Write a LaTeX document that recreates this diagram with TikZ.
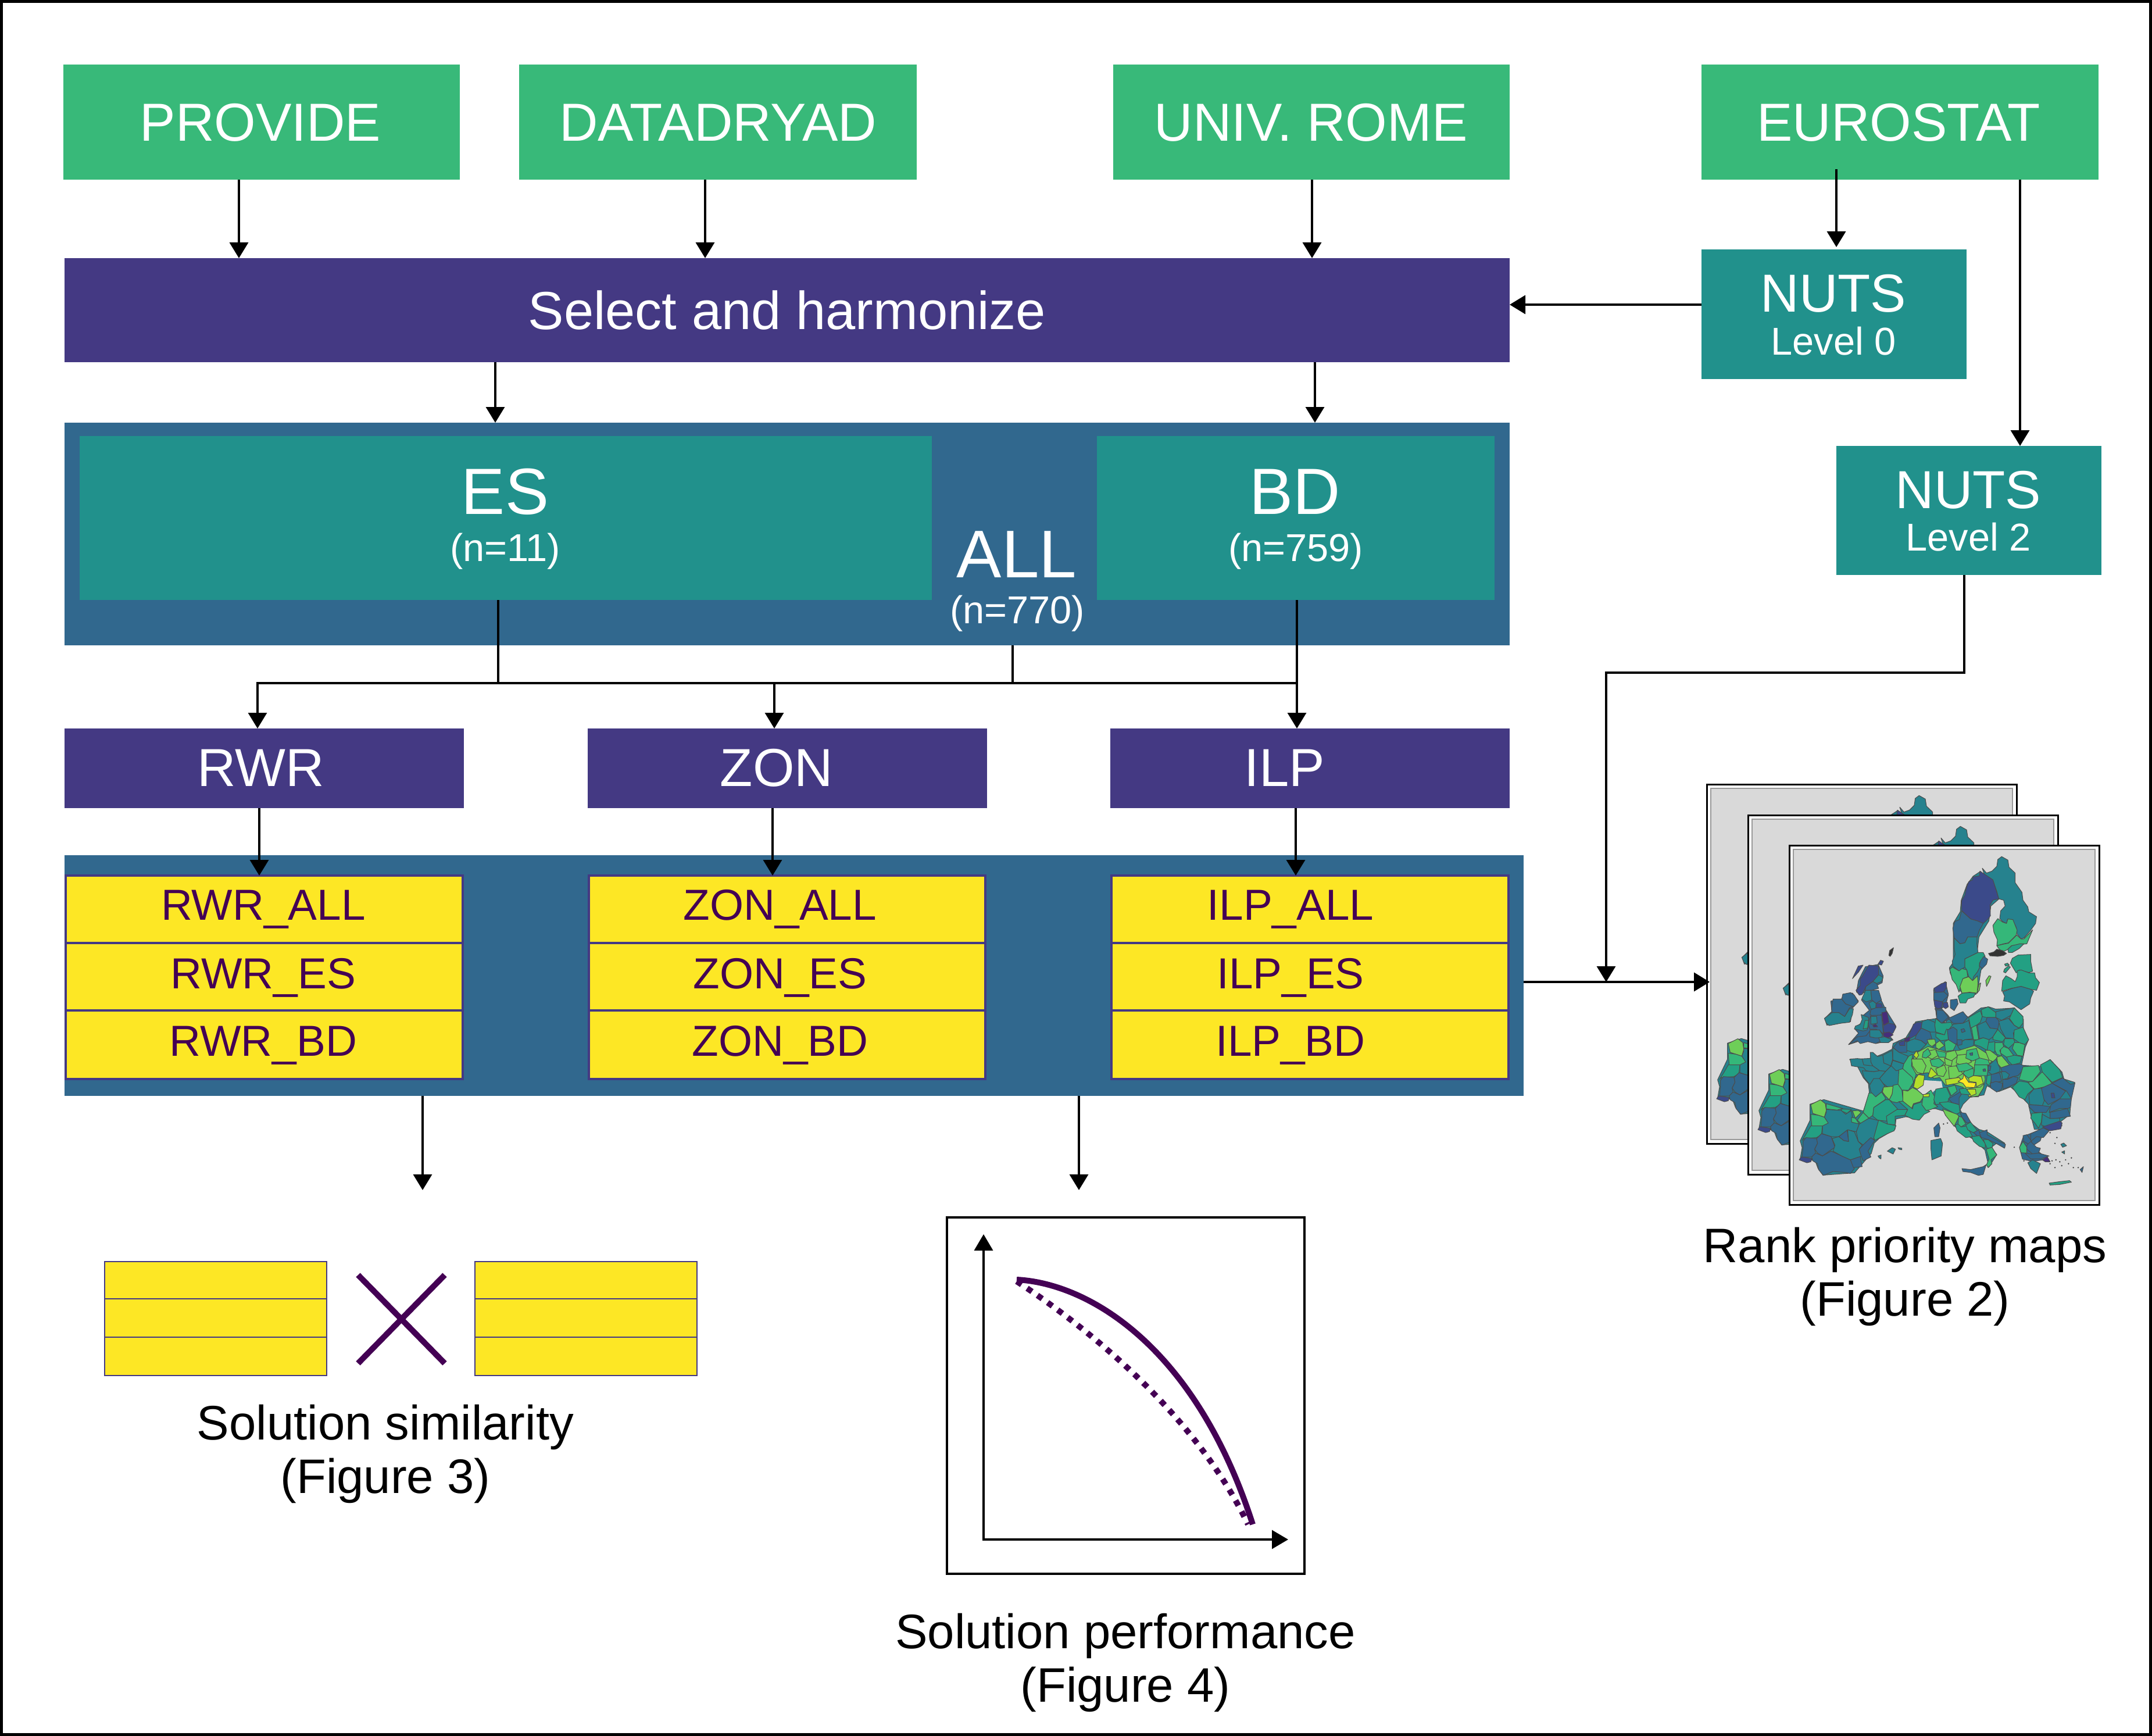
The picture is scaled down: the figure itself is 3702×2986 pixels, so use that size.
\documentclass[tikz,border=0pt]{standalone}
\usepackage{fontspec}
\setmainfont{Liberation Sans}
\usetikzlibrary{arrows.meta}
\definecolor{vgreen}{HTML}{38B979}
\definecolor{vpurple}{HTML}{443983}
\definecolor{vteal}{HTML}{21918C}
\definecolor{vblue}{HTML}{31688E}
\definecolor{vyellow}{HTML}{FDE725}
\definecolor{vdark}{HTML}{440154}
\definecolor{vA}{HTML}{472D7B}
\definecolor{vB}{HTML}{3B4A8A}
\definecolor{vC}{HTML}{31688E}
\definecolor{vD}{HTML}{26828E}
\definecolor{vE}{HTML}{23A083}
\definecolor{vF}{HTML}{35B779}
\definecolor{vG}{HTML}{6ECE58}
\definecolor{vH}{HTML}{B5DE2B}
\definecolor{vI}{HTML}{FDE725}
\tikzset{
 blk/.style={draw=none,outer sep=0pt,inner sep=0pt},
 yrow/.style={draw=vpurple,line width=0.8mm,fill=vyellow,outer sep=0pt,inner sep=0pt},
 yrowthin/.style={draw=vpurple,line width=0.4mm,fill=vyellow,outer sep=0pt,inner sep=0pt},
 conn/.style={line width=0.7mm,-{Triangle[length=5.4mm,width=6.4mm]}},
 plainconn/.style={line width=0.7mm},
 lab/.style={anchor=base,inner sep=0pt,outer sep=0pt},
 wh/.style={text=white},
 pu/.style={text=vdark},
 f52/.style={font=\fontsize{52.4}{60}\selectfont},
 f64/.style={font=\fontsize{64}{72}\selectfont},
 f66/.style={font=\fontsize{66}{72}\selectfont},
 f37/.style={font=\fontsize{38}{44}\selectfont},
 f42/.style={font=\fontsize{42.5}{50}\selectfont},
 f47/.style={font=\fontsize{47.4}{55}\selectfont},
 mp/.style={draw=black!70,line width=0.2mm,line join=round},
 sheet/.style={draw=black,line width=0.6mm,fill=white},
 sheetin/.style={draw=black!40,line width=0.4mm,fill=black!15},
}
\newcommand{\bx}[6]{\node[#2,minimum width={(#5-#3)*0.2mm},minimum height={(#6-#4)*0.2mm}] (#1) at ({(#3+#5)/2},{(#4+#6)/2}) {};}
\newcommand{\tx}[5]{\node[lab,#2] (#1) at (#3,#4) {#5};}
\newcommand{\rg}[2]{\path[mp,fill=#1] plot coordinates {#2} -- cycle;}
\newcommand{\EUmap}{%
\begin{scope}[shift={(3078,1454)},x=0.068mm,y=-0.0788mm]
\rg{vD}{(305,935)(410,930)(410,905)(430,925)(475,910)(520,890)(525,865)(590,840)(640,770)(750,755)(790,775)(800,760)(880,735)(905,750)(970,710)(1010,705)(1045,715)(1140,710)(1185,760)(1185,800)(1210,850)(1195,880)(1175,960)(1270,965)(1320,935)(1380,990)(1390,1020)(1445,1035)(1425,1110)(1420,1175)(1375,1205)(1380,1225)(1300,1240)(1265,1240)(1240,1240)(1220,1170)(1210,1130)(1160,1085)(1120,1055)(1060,1075)(1000,1050)(985,1090)(915,1100)(880,1130)(865,1155)(890,1195)(960,1240)(1000,1250)(1090,1300)(1090,1320)(1050,1300)(1020,1320)(1050,1350)(1010,1405)(990,1330)(925,1280)(850,1240)(780,1160)(740,1150)(670,1150)(660,1195)(590,1185)(540,1195)(535,1240)(455,1280)(430,1300)(415,1345)(360,1400)(330,1430)(170,1440)(145,1410)(130,1375)(55,1370)(65,1320)(55,1290)(105,1200)(105,1130)(175,1110)(375,1160)(405,1080)(400,1040)(375,1015)(345,965)}
\rg{vC}{(1165,1320)(1185,1270)(1290,1235)(1270,1290)(1235,1310)(1265,1340)(1310,1370)(1230,1380)(1180,1370)}
\rg{vD}{(965,115)(1040,170)(1060,235)(1020,265)(1010,330)(960,400)(950,470)(985,490)(1000,510)(970,545)(960,600)(945,650)(890,660)(860,630)(815,560)(810,535)(830,510)(830,420)(830,340)(865,290)(870,240)(900,170)(930,135)}
\rg{vC}{(365,650)(400,630)(470,600)(475,570)(450,520)(385,530)(350,590)(340,640)(355,650)}
\rg{vC}{(365,675)(405,635)(445,640)(490,720)(540,790)(510,835)(525,850)(440,865)(370,850)(300,870)(350,820)(330,800)(385,760)(370,745)(405,720)}
\rg{vC}{(180,755)(215,725)(210,680)(265,670)(275,650)(320,645)(350,680)(320,710)(310,770)(190,785)}
\rg{vC}{(730,630)(790,595)(805,650)(790,705)(770,710)(800,760)(745,750)(735,680)}
\fill[black!15] (640,1060)--(680,1025)--(770,1030)--(780,1075)--(735,1070)--(710,1095)--(680,1090)--cycle;
\end{scope}
\begin{scope}[shift={(3330,1460)},x=0.0666667mm,y=-0.0666667mm]
\rg{vD}{(240,100)(262,125)(290,115)(315,90)(320,55)(340,40)(372,58)(378,95)(410,125)(410,175)(445,225)(450,265)(475,300)(480,325)(520,350)(515,385)(490,420)(455,460)(440,465)(420,440)(415,405)(395,365)(370,365)(365,385)(345,375)(330,360)(335,320)(358,295)(350,265)(325,258)(315,220)(295,165)(250,130)}
\rg{vB}{(228,115)(250,130)(295,160)(315,225)(325,258)(295,265)(280,290)(282,345)(272,360)(245,385)(215,372)(180,362)(133,318)(133,268)(150,240)(158,200)(170,170)(190,160)(192,145)(225,140)}
\rg{vC}{(133,320)(180,362)(215,372)(245,385)(225,420)(213,455)(165,455)(150,485)(125,490)(95,460)(88,410)(98,375)(122,365)}
\rg{vD}{(95,460)(125,490)(150,485)(165,455)(213,455)(212,490)(218,535)(150,568)(150,610)(120,630)(88,605)(85,580)(100,545)(95,515)}
\rg{vE}{(218,535)(245,535)(255,555)(225,590)(225,615)(215,635)(195,660)(190,680)(170,660)(160,625)(150,610)(150,568)}
\rg{vC}{(248,555)(268,570)(262,595)(240,618)(225,605)(230,580)}
\rg{vF}{(72,622)(85,610)(120,630)(135,618)(160,625)(165,660)(140,670)(128,710)(120,740)(105,700)(85,675)}
\rg{vG}{(140,670)(170,660)(190,680)(215,655)(218,695)(213,745)(175,740)(135,745)(125,710)}
\rg{vG}{(213,745)(222,700)(232,692)(225,730)}
\rg{vG}{(258,680)(275,655)(285,658)(275,685)(262,710)}
\rg{vE}{(115,760)(135,745)(175,742)(205,745)(195,765)(165,775)(155,795)(125,795)}
\rg{vF}{(295,395)(320,360)(345,378)(365,385)(372,362)(398,365)(420,420)(415,445)(375,485)(350,490)(315,500)(318,470)(300,430)}
\rg{vF}{(315,500)(350,492)(375,487)(418,445)(440,465)(455,465)(500,418)(470,490)(430,495)(390,500)(370,520)(345,532)(325,515)}
\rg{vE}{(375,535)(372,518)(392,500)(435,490)(455,490)(430,515)(395,535)}
\rg{black!80}{(272,540)(300,532)(315,518)(345,525)(365,540)(350,550)(320,555)(280,552)}
\rg{vE}{(385,590)(395,565)(425,548)(490,545)(490,580)(500,632)(480,638)(430,625)(415,640)}
\rg{vE}{(350,635)(355,620)(375,605)(385,610)(360,640)}
\rg{vE}{(355,595)(370,590)(380,600)(360,605)}
\rg{vE}{(340,735)(345,680)(362,655)(390,670)(410,685)(420,660)(420,630)(440,625)(480,640)(510,640)(515,665)(535,690)(520,730)(490,725)(440,710)(390,720)}
\rg{vD}{(345,738)(395,720)(440,710)(490,725)(505,735)(490,770)(485,800)(440,830)(410,810)(380,790)(350,785)(355,760)}
\end{scope}
\begin{scope}[shift={(3120,1620)},x=0.0666667mm,y=-0.0666667mm]
\rg{vB}{(620,240)(660,215)(685,208)(685,235)(670,260)(630,265)}
\rg{vC}{(620,262)(672,258)(695,278)(672,300)(665,310)(620,300)}
\rg{vB}{(620,300)(665,310)(660,340)(640,345)(625,335)}
\rg{vB}{(668,315)(690,312)(695,335)(680,345)(668,335)}
\rg{vC}{(705,300)(740,295)(745,320)(725,355)(705,340)}
\rg{vC}{(625,345)(660,345)(690,375)(705,395)(670,415)(640,390)(635,360)}
\rg{vD}{(55,395)(95,365)(130,365)(160,385)(185,345)(205,345)(200,375)(185,415)(140,420)(80,432)(65,420)}
\rg{vC}{(92,345)(100,295)(145,295)(165,320)(205,335)(185,340)(160,385)(130,365)(95,365)}
\rg{vC}{(150,270)(190,262)(210,275)(230,310)(205,335)(165,320)(145,295)}
\rg{vB}{(250,180)(285,120)(335,125)(335,170)(305,205)(270,230)(250,272)(235,275)(218,250)(240,225)(240,190)}
\rg{vB}{(200,190)(230,125)(255,120)(232,155)}
\rg{vB}{(332,115)(345,95)(360,100)(350,120)}
\rg{black!80}{(388,70)(392,45)(412,30)(405,60)(395,75)}
\rg{vD}{(305,205)(335,170)(358,183)(350,205)(325,215)}
\rg{vC}{(270,230)(305,205)(325,215)(335,240)(300,250)(265,250)}
\rg{vD}{(268,250)(295,250)(300,300)(270,310)(248,295)}
\rg{vC}{(295,250)(335,250)(350,300)(322,318)(300,300)}
\rg{vD}{(285,315)(305,305)(322,318)(320,345)(295,345)}
\rg{vB}{(322,318)(350,320)(355,340)(322,340)}
\rg{vC}{(295,350)(322,340)(372,338)(372,360)(340,380)(300,380)(290,375)}
\rg{vC}{(295,380)(350,378)(355,430)(360,475)(340,460)(320,450)(290,450)(280,420)}
\rg{vD}{(295,385)(325,385)(328,420)(295,425)}
\rg{vA}{(352,365)(378,360)(388,415)(360,430)(355,400)}
\rg{vB}{(360,432)(385,420)(415,425)(425,440)(410,470)(390,485)(360,465)}
\rg{vA}{(360,470)(390,465)(410,480)(385,495)(360,490)}
\rg{vA}{(305,430)(320,425)(330,438)(310,440)}
\rg{vD}{(245,375)(270,385)(283,390)(285,430)(275,455)(255,460)(210,450)(215,435)(240,425)(250,400)}
\rg{vE}{(265,405)(283,405)(278,445)(255,450)}
\rg{vC}{(180,530)(225,490)(270,485)(290,460)(340,455)(365,490)(405,505)(385,520)(340,515)(320,525)(280,515)(240,525)(225,510)(205,520)}
\rg{vD}{(290,455)(340,455)(355,480)(350,495)(315,495)(290,490)}
\rg{vD}{(335,495)(365,490)(405,505)(385,520)(345,520)}
\rg{vC}{(410,545)(440,510)(475,510)(490,520)(480,570)(440,570)}
\rg{vB}{(440,520)(470,508)(470,535)(445,535)}
\rg{vA}{(470,500)(495,490)(490,515)(470,515)}
\rg{vD}{(292,570)(305,570)(330,592)(357,585)(362,625)(398,640)(372,668)(340,665)(305,640)(295,620)}
\rg{vD}{(188,605)(225,602)(250,605)(258,635)(305,640)(340,665)(310,670)(270,665)(258,650)(195,640)}
\rg{vD}{(357,585)(405,560)(408,605)(398,640)(362,625)}
\rg{vD}{(408,545)(440,570)(488,590)(470,630)(410,610)(408,605)}
\rg{vD}{(400,640)(408,612)(465,630)(458,660)(425,665)}
\rg{vD}{(250,665)(310,670)(340,665)(372,668)(340,705)(350,735)(295,742)(260,700)}
\rg{vD}{(372,668)(400,640)(425,665)(458,660)(440,690)(440,745)(380,748)(345,720)(340,705)}
\rg{vF}{(465,630)(490,590)(510,580)(505,640)(530,680)(510,745)(440,745)(440,690)(458,660)}
\rg{vG}{(510,600)(550,600)(575,640)(570,680)(530,685)(505,640)}
\end{scope}
\begin{scope}[shift={(3090,1820)},x=0.0666667mm,y=-0.0666667mm]
\rg{vD}{(378,140)(400,105)(430,105)(458,145)(450,150)(440,175)(410,200)(385,175)}
\rg{vG}{(450,150)(500,145)(495,185)(480,215)(460,195)(445,175)}
\rg{vF}{(525,135)(530,60)(550,55)(600,100)(605,125)(580,165)(545,165)}
\rg{vF}{(375,180)(390,180)(410,200)(440,175)(460,205)(458,215)(400,255)(395,295)(375,310)(345,280)}
\rg{vE}{(460,215)(480,215)(525,265)(475,300)(465,325)(420,320)(395,300)(400,255)}
\rg{vF}{(500,140)(525,135)(545,165)(550,205)(565,220)(530,225)(520,230)(495,225)(480,215)(495,185)}
\rg{vG}{(550,165)(575,170)(600,152)(625,165)(660,195)(640,225)(605,235)(595,260)(565,240)(550,222)}
\rg{vE}{(530,225)(550,222)(600,262)(605,240)(650,225)(670,265)(690,275)(660,290)(635,320)(600,315)(560,295)(575,265)}
\rg{vE}{(465,300)(520,265)(575,265)(560,295)(510,300)(510,345)(470,340)}
\rg{vG}{(75,240)(125,215)(150,235)(155,270)(145,305)(115,295)(85,285)}
\rg{vF}{(155,235)(240,260)(210,268)(155,262)}
\rg{vE}{(235,262)(285,265)(262,285)(232,272)}
\rg{vD}{(155,265)(232,270)(255,290)(285,270)(290,305)(285,325)(325,340)(310,380)(265,370)(220,405)(180,405)(135,390)(135,340)(155,320)(145,305)(155,280)}
\rg{vG}{(290,272)(320,270)(335,280)(305,310)}
\rg{vF}{(345,280)(375,310)(340,345)(315,320)}
\rg{vF}{(285,305)(305,310)(325,340)(285,330)}
\rg{vF}{(75,290)(115,295)(145,305)(165,335)(135,350)(80,350)}
\rg{vE}{(75,350)(135,350)(130,395)(105,410)(40,415)(30,425)(55,385)}
\rg{vC}{(35,430)(50,410)(105,415)(110,440)(95,470)(100,490)(80,510)(30,510)(35,460)}
\rg{vC}{(130,390)(180,405)(200,460)(170,480)(135,505)(110,490)(95,470)(110,440)(105,415)}
\rg{vC}{(80,510)(100,490)(135,505)(180,480)(235,505)(280,525)(300,570)(280,595)(250,590)(190,585)(140,605)(115,575)(110,545)(85,530)}
\rg{vB}{(15,525)(25,510)(80,518)(75,535)(55,540)}
\rg{vD}{(185,415)(220,405)(245,425)(270,430)(265,370)(300,380)(320,430)(340,450)(325,470)(340,505)(280,525)(235,505)(190,480)(200,450)}
\rg{vC}{(220,405)(262,372)(270,430)(245,425)}
\rg{vD}{(325,340)(375,310)(425,322)(410,380)(400,420)(345,448)(320,430)(310,380)}
\rg{vE}{(425,320)(470,340)(515,348)(505,375)(470,390)(405,425)(400,410)}
\rg{vC}{(345,448)(385,410)(405,425)(370,480)(385,510)(345,530)(335,505)(325,470)}
\rg{vC}{(280,525)(330,508)(340,560)(295,565)}
\rg{vD}{(470,480)(495,462)(512,470)(500,495)}
\rg{vD}{(525,462)(545,465)(545,473)(530,470)}
\rg{vD}{(422,505)(438,500)(437,520)(428,515)}
\end{scope}
\begin{scope}[shift={(3280,1700)},x=0.0666667mm,y=-0.0666667mm]
\rg{vB}{(35,185)(55,175)(80,175)(75,205)(50,240)(15,260)(0,270)}
\rg{vD}{(80,170)(110,160)(145,175)(150,225)(120,225)(75,205)}
\rg{vC}{(50,240)(75,205)(120,225)(130,260)(100,290)(75,270)(40,265)}
\rg{vD}{(0,275)(40,260)(75,270)(100,290)(70,320)(30,330)(0,320)}
\rg{vA}{(0,255)(15,250)(15,270)(0,278)}
\rg{vE}{(100,290)(120,260)(150,290)(115,320)(70,320)}
\rg{vC}{(155,110)(190,115)(215,150)(180,180)(155,155)}
\rg{vC}{(215,155)(290,120)(315,150)(290,180)(240,180)}
\rg{vE}{(150,155)(180,180)(230,175)(240,205)(205,215)(195,240)(150,225)(145,190)}
\rg{vD}{(240,185)(290,180)(320,165)(330,215)(340,260)(300,265)(260,290)(225,270)(220,210)}
\rg{vF}{(333,195)(360,190)(372,265)(345,265)}
\rg{vE}{(320,150)(380,115)(390,145)(380,175)(360,190)(330,205)}
\rg{vE}{(385,110)(420,95)(460,125)(460,150)(410,150)(390,145)}
\rg{vD}{(460,120)(555,100)(555,130)(490,165)(460,150)}
\rg{vC}{(408,170)(415,150)(460,150)(478,170)(470,210)(430,205)}
\rg{vD}{(365,190)(408,170)(430,205)(470,210)(445,250)(425,265)(395,255)(375,260)}
\rg{vD}{(475,170)(525,155)(555,190)(580,205)(550,230)(555,260)(510,255)(485,210)}
\rg{vE}{(555,100)(600,145)(600,180)(580,205)(555,190)(530,155)}
\rg{vE}{(445,250)(470,212)(510,255)(495,275)(445,265)}
\rg{vE}{(555,215)(600,200)(630,265)(610,290)(580,280)(552,260)}
\rg{vE}{(505,260)(552,260)(558,280)(525,310)(500,290)}
\rg{vF}{(555,280)(580,280)(610,290)(600,350)(570,345)(545,310)}
\rg{vF}{(485,310)(500,300)(525,310)(555,350)(515,355)(485,335)}
\rg{vE}{(515,355)(555,345)(595,352)(585,385)(545,395)(525,375)}
\rg{vF}{(455,280)(495,280)(500,300)(480,320)(490,350)(465,340)(455,320)}
\rg{vE}{(420,280)(455,275)(455,330)(430,325)(415,320)}
\rg{vE}{(350,270)(395,255)(425,265)(415,320)(380,300)(348,290)}
\rg{vD}{(260,290)(300,265)(345,265)(345,295)(290,325)(270,310)}
\rg{vC}{(280,212)(295,208)(302,222)(285,228)}
\rg{vC}{(258,265)(285,265)(285,290)(262,295)}
\rg{vE}{(150,230)(195,240)(205,210)(220,215)(215,265)(175,270)(150,250)}
\rg{vC}{(210,215)(240,200)(260,215)(260,285)(235,290)(215,265)}
\rg{vG}{(55,330)(110,300)(200,325)(270,320)(350,295)(420,340)(440,375)(420,400)(415,430)(400,440)(405,470)(395,510)(370,560)(330,560)(290,510)(225,490)(200,500)(170,460)(140,465)(110,435)(70,440)(40,400)(35,360)}
\rg{vG}{(105,265)(145,262)(150,285)(130,300)(115,290)}
\rg{vG}{(150,285)(170,270)(195,295)(165,315)(150,305)}
\rg{vF}{(195,275)(215,265)(255,290)(240,320)(200,325)}
\rg{vG}{(100,325)(150,315)(165,345)(130,365)(100,350)}
\rg{vF}{(150,320)(200,330)(205,355)(165,355)}
\rg{vG}{(205,330)(250,320)(262,350)(230,375)(200,360)}
\rg{vG}{(262,345)(305,340)(335,380)(290,400)(255,385)}
\rg{vG}{(195,360)(235,375)(230,400)(200,395)}
\rg{vF}{(120,370)(165,360)(195,385)(170,410)(130,400)}
\rg{vG}{(150,415)(195,395)(205,425)(190,455)(160,450)}
\rg{vG}{(215,405)(255,400)(290,440)(250,465)(220,465)}
\rg{vF}{(290,440)(310,410)(345,415)(345,450)(320,465)}
\rg{vF}{(85,330)(110,310)(125,340)(100,360)(80,355)}
\rg{vG}{(25,365)(80,365)(100,400)(85,440)(55,435)(30,400)}
\rg{vH}{(35,345)(50,322)(62,345)(50,362)}
\rg{vH}{(60,445)(92,450)(85,500)(55,520)(35,510)(45,465)}
\rg{vH}{(125,410)(158,445)(125,462)(110,455)}
\rg{vG}{(405,320)(430,320)(470,350)(450,380)(425,370)}
\rg{vG}{(465,355)(490,348)(530,395)(495,418)(470,390)}
\rg{vH}{(200,470)(270,460)(290,480)(260,490)(205,500)}
\rg{vH}{(320,462)(345,450)(385,455)(395,490)(360,508)(358,485)(322,480)}
\rg{vI}{(265,480)(290,465)(295,442)(305,462)(320,485)(358,488)(350,512)(305,510)(290,490)}
\rg{vG}{(380,510)(400,490)(395,515)(370,555)(335,560)(315,520)(350,512)}
\rg{vH}{(312,520)(355,520)(358,545)(320,560)}
\rg{vF}{(350,395)(415,390)(420,410)(415,450)(385,450)(345,450)(350,420)}
\rg{vF}{(360,355)(420,370)(430,395)(350,395)}
\rg{vF}{(310,320)(360,310)(375,360)(340,375)(305,360)}
\rg{vC}{(325,335)(340,332)(340,345)(328,345)}
\rg{vC}{(393,418)(405,415)(408,428)(395,428)}
\rg{vF}{(255,395)(310,385)(345,410)(310,425)(270,430)}
\rg{vD}{(420,400)(460,365)(480,410)(480,430)(440,445)(420,430)}
\rg{vC}{(420,400)(435,400)(430,425)(420,425)}
\rg{vC}{(485,410)(530,395)(585,390)(615,405)(575,450)(550,455)(520,465)(500,450)}
\rg{vD}{(480,430)(510,430)(530,445)(520,465)(495,470)(490,435)}
\rg{vE}{(415,450)(440,445)(430,505)(410,490)}
\rg{vC}{(435,445)(480,435)(490,480)(435,490)}
\rg{vC}{(430,490)(460,480)(495,490)(490,520)(465,535)(435,515)}
\rg{vC}{(495,470)(520,470)(550,455)(575,460)(565,490)(525,510)(497,520)}
\rg{vF}{(600,405)(680,398)(690,430)(650,480)(625,480)(580,470)}
\rg{vF}{(625,485)(650,480)(700,430)(750,490)(725,505)(660,520)}
\rg{vE}{(690,395)(740,368)(790,420)(805,460)(750,485)(700,432)}
\rg{vC}{(750,490)(805,462)(845,495)(868,490)(850,570)(825,530)}
\rg{vC}{(695,515)(750,490)(820,530)(790,570)(730,600)(705,570)}
\rg{vB}{(745,540)(760,540)(765,565)(748,565)}
\rg{vE}{(545,510)(580,478)(625,485)(655,520)(625,545)(610,575)(580,560)}
\rg{vD}{(630,550)(655,520)(695,515)(710,580)(700,605)(635,600)}
\rg{vC}{(635,600)(700,605)(740,610)(720,640)(660,640)(630,610)}
\rg{vC}{(745,600)(790,570)(850,570)(845,615)(830,620)(790,620)(735,640)}
\rg{vC}{(740,640)(830,620)(845,660)(780,670)(740,672)}
\rg{vE}{(645,645)(700,640)(695,690)(680,722)(665,700)(640,670)}
\rg{vD}{(700,650)(740,672)(790,670)(790,690)(720,715)(695,705)}
\rg{vB}{(700,715)(790,685)(802,695)(795,725)(740,735)}
\rg{vC}{(640,750)(705,720)(735,735)(705,770)(670,765)(640,790)}
\rg{vC}{(600,760)(620,755)(645,790)(630,805)(605,790)}
\rg{vC}{(620,810)(640,790)(670,820)(690,825)(680,850)(650,855)(620,830)}
\rg{vF}{(582,820)(600,790)(620,820)(620,850)(590,848)}
\rg{vC}{(610,850)(640,855)(680,850)(735,865)(690,880)(640,880)}
\rg{vA}{(700,885)(725,868)(740,895)(715,895)}
\rg{vD}{(625,900)(650,885)(690,905)(670,955)(640,930)}
\rg{vE}{(735,1005)(785,998)(840,992)(850,1000)(790,1012)(740,1015)}
\rg{vD}{(795,805)(810,798)(825,812)(805,820)}
\rg{vD}{(800,845)(815,838)(815,855)}
\rg{vC}{(895,935)(912,920)(905,950)}
\rg{vC}{(140,720)(165,695)(172,720)(165,765)(145,765)}
\rg{vD}{(125,785)(175,775)(185,800)(178,865)(130,885)(125,830)}
\rg{vC}{(285,930)(330,935)(395,920)(410,910)(395,960)(370,965)(330,950)(290,945)}
\rg{vF}{(78,600)(85,555)(125,525)(145,560)(140,595)(160,610)(125,625)(100,630)}
\rg{vH}{(85,548)(118,543)(115,560)(85,560)}
\rg{vE}{(150,520)(205,510)(225,555)(210,590)(150,600)(140,575)}
\rg{vF}{(210,510)(250,500)(260,530)(230,555)}
\rg{vC}{(215,570)(250,550)(300,520)(270,565)(270,600)(235,590)}
\rg{vE}{(168,590)(215,585)(270,600)(275,640)(255,650)(190,615)}
\rg{vE}{(270,520)(305,515)(330,550)(280,545)}
\rg{vG}{(185,622)(260,650)(270,660)(245,712)(200,655)}
\rg{vC}{(275,640)(305,645)(330,690)(310,695)(285,665)}
\rg{vF}{(268,660)(285,665)(305,700)(280,715)(265,700)}
\rg{vE}{(250,705)(265,700)(280,715)(310,710)(340,765)(305,770)(260,735)}
\rg{vE}{(305,705)(330,690)(365,735)(345,745)(315,730)}
\rg{vC}{(345,745)(370,730)(390,765)(375,770)}
\rg{vC}{(375,745)(415,730)(415,755)(470,785)(510,805)(505,825)(470,805)(420,780)(385,770)}
\rg{vE}{(335,765)(375,760)(405,800)(405,825)(375,815)(345,790)}
\rg{vE}{(395,780)(420,780)(445,800)(440,825)(415,825)}
\rg{vF}{(410,830)(440,820)(465,860)(435,885)(440,905)(420,925)(412,910)(425,880)}
\foreach \p in {(765,800),(750,890),(770,885),(790,895),(820,885),(850,875),(835,905),(800,915),(765,925),(860,925),(885,925),(740,905),(775,770),(740,745),(555,820),(605,890),(210,695),(190,700)}{\fill[black!75] \p circle[radius=4];}
\end{scope}
}
\newcommand{\sheetat}[1]{%
\begin{scope}[shift={(#1)}]
\path[sheet] (3078,1454) rectangle (3611,2072);
\path[sheetin] (3085,1461) rectangle (3604,2065);
\EUmap
\end{scope}}
\begin{document}
\begin{tikzpicture}[x=0.2mm,y=-0.2mm]
\useasboundingbox (0,0) rectangle (3702,2986);
\draw[line width=1mm,draw=black] (2.5,2.5) rectangle (3699.5,2983.5);
% source boxes
\bx{prov}{blk,fill=vgreen}{109}{111}{791}{309}
\bx{dryad}{blk,fill=vgreen}{893}{111}{1577}{309}
\bx{rome}{blk,fill=vgreen}{1915}{111}{2597}{309}
\bx{euro}{blk,fill=vgreen}{2927}{111}{3610}{309}
\bx{sel}{blk,fill=vpurple}{111}{444}{2597}{623}
\bx{nutsz}{blk,fill=vteal}{2927}{429}{3383}{652}
\bx{nutst}{blk,fill=vteal}{3159}{767}{3615}{989}
\bx{all}{blk,fill=vblue}{111}{727}{2597}{1110}
\bx{es}{blk,fill=vteal}{137}{750}{1603}{1032}
\bx{bd}{blk,fill=vteal}{1887}{750}{2571}{1032}
\bx{rwr}{blk,fill=vpurple}{111}{1253}{798}{1390}
\bx{zon}{blk,fill=vpurple}{1011}{1253}{1698}{1390}
\bx{ilp}{blk,fill=vpurple}{1910}{1253}{2597}{1390}
\bx{res}{blk,fill=vblue}{111}{1471}{2621}{1885}
\bx{ra}{yrow}{113}{1506}{796}{1622}
\bx{re}{yrow}{113}{1622}{796}{1738}
\bx{rb}{yrow}{113}{1738}{796}{1856}
\bx{za}{yrow}{1013}{1506}{1695}{1622}
\bx{ze}{yrow}{1013}{1622}{1695}{1738}
\bx{zb}{yrow}{1013}{1738}{1695}{1856}
\bx{ia}{yrow}{1912}{1506}{2595}{1622}
\bx{ie}{yrow}{1912}{1622}{2595}{1738}
\bx{ib}{yrow}{1912}{1738}{2595}{1856}
% small tables
\bx{sla}{yrowthin}{180}{2170}{562}{2234}
\bx{slb}{yrowthin}{180}{2234}{562}{2300}
\bx{slc}{yrowthin}{180}{2300}{562}{2366}
\bx{sra}{yrowthin}{817}{2170}{1199}{2234}
\bx{srb}{yrowthin}{817}{2234}{1199}{2300}
\bx{src}{yrowthin}{817}{2300}{1199}{2366}
\draw[vdark,line width=2mm] (616,2193) -- (765,2345);
\draw[vdark,line width=2mm] (765,2193) -- (616,2345);
% texts
\tx{tprov}{f52,wh}{448}{243}{PROVIDE}
\tx{tdry}{f52,wh}{1235}{243}{DATADRYAD}
\tx{trome}{f52,wh}{2255}{243}{UNIV. ROME}
\tx{teuro}{f52,wh}{3266}{243}{EUROSTAT}
\tx{tsel}{f52,wh}{1354}{566}{Select and harmonize}
\tx{tnz}{f52,wh}{3154}{536}{NUTS}
\tx{tnzl}{f37,wh}{3154}{610}{Level 0}
\tx{tnt}{f52,wh}{3386}{874}{NUTS}
\tx{tntl}{f37,wh}{3386}{947}{Level 2}
\tx{tes}{f64,wh}{869}{884}{ES}
\tx{tesn}{f37,wh}{869}{965}{(n=11)}
\tx{tbd}{f64,wh}{2228}{884}{BD}
\tx{tbdn}{f37,wh}{2229}{965}{(n=759)}
\tx{tall}{f66,wh}{1749}{993}{ALL}
\tx{talln}{f37,wh}{1750}{1072}{(n=770)}
\tx{trwr}{f52,wh}{449}{1352}{RWR}
\tx{tzon}{f52,wh}{1336}{1352}{ZON}
\tx{tilp}{f52,wh}{2210}{1352}{ILP}
\tx{tra}{f42,pu}{453}{1582}{RWR\_ALL}
\tx{tre}{f42,pu}{453}{1700}{RWR\_ES}
\tx{trb}{f42,pu}{453}{1816}{RWR\_BD}
\tx{tza}{f42,pu}{1342}{1582}{ZON\_ALL}
\tx{tze}{f42,pu}{1342}{1700}{ZON\_ES}
\tx{tzb}{f42,pu}{1342}{1816}{ZON\_BD}
\tx{tia}{f42,pu}{2220}{1582}{ILP\_ALL}
\tx{tie}{f42,pu}{2220}{1700}{ILP\_ES}
\tx{tib}{f42,pu}{2220}{1816}{ILP\_BD}
\tx{tss}{f47}{663}{2476}{Solution similarity}
\tx{tf3}{f47}{663}{2568}{(Figure 3)}
\tx{tsp}{f47}{1936}{2835}{Solution performance}
\tx{tf4}{f47}{1936}{2927}{(Figure 4)}
\tx{trp}{f47}{3277}{2171}{Rank priority maps}
\tx{tf2}{f47}{3277}{2263}{(Figure 2)}
% map sheets
\sheetat{-142,-105}
\sheetat{-71,-52}
\sheetat{0,0}
\node[inner sep=0pt,outer sep=0pt,minimum size=1pt] (mapf) at (2942,1689) {};
% connector guide positions
\coordinate (xa) at (411,0);
\coordinate (xb) at (1213,0);
\coordinate (xc) at (2257,0);
\coordinate (xd) at (3159,0);
\coordinate (xe) at (3475,0);
\coordinate (xf) at (852,0);
\coordinate (xg) at (2262,0);
\coordinate (xh) at (857,0);
\coordinate (xi) at (2231,0);
\coordinate (xj) at (1742,0);
\coordinate (xk) at (443,0);
\coordinate (xl) at (1332,0);
\coordinate (xm) at (446,0);
\coordinate (xn) at (1329,0);
\coordinate (xo) at (2229,0);
\coordinate (xp) at (727,0);
\coordinate (xq) at (1856,0);
\coordinate (xr) at (3379,0);
\coordinate (xs) at (2763,0);
\coordinate (ybus) at (0,1175);
\coordinate (ytwo) at (0,1157);
\coordinate (yz) at (0,524);
\coordinate (ye) at (0,291);
\coordinate (ynz) at (0,425);
\coordinate (yres) at (0,1689);
\coordinate (yend) at (0,2047);
\draw[conn] (prov.south -| xa) -- (sel.north -| xa);
\draw[conn] (dryad.south -| xb) -- (sel.north -| xb);
\draw[conn] (rome.south -| xc) -- (sel.north -| xc);
\draw[conn] (xd |- ye) -- (xd |- ynz);
\draw[conn] (euro.south -| xe) -- (nutst.north -| xe);
\draw[conn] (nutsz.west |- yz) -- (sel.east |- yz);
\draw[conn] (sel.south -| xf) -- (all.north -| xf);
\draw[conn] (sel.south -| xg) -- (all.north -| xg);
\draw[plainconn] (es.south -| xh) -- (xh |- ybus);
\draw[plainconn] (all.south -| xj) -- (xj |- ybus);
\draw[conn] (bd.south -| xi) -- (rwr.north -| xi);
\draw[conn] (xi |- ybus) -- (xk |- ybus) -- (rwr.north -| xk);
\draw[conn] (xl |- ybus) -- (zon.north -| xl);
\draw[conn] (rwr.south -| xm) -- (ra.north -| xm);
\draw[conn] (zon.south -| xn) -- (za.north -| xn);
\draw[conn] (ilp.south -| xo) -- (ia.north -| xo);
\draw[conn] (res.south -| xp) -- (xp |- yend);
\draw[conn] (res.south -| xq) -- (xq |- yend);
\draw[conn] (res.east |- yres) -- (mapf);
\draw[conn] (nutst.south -| xr) -- (xr |- ytwo) -- (xs |- ytwo) -- (xs |- yres);
% performance panel
\node[draw=black,line width=0.7mm,fill=white,outer sep=0pt,inner sep=0pt,minimum width={615*0.2mm},minimum height={613*0.2mm}] (perf) at (1936.5,2400.5) {};
\coordinate (orig) at (1692,2648);
\coordinate (ytip) at (1692,2123);
\coordinate (xtip) at (2216,2648);
\draw[line width=0.7mm,{Triangle[length=5.6mm,width=6.4mm]}-{Triangle[length=5.6mm,width=6.4mm]},line join=miter] (ytip) -- (orig) -- (xtip);
\draw[vdark,line width=2mm,dash pattern=on 2mm off 2.3mm] (1749,2204) .. controls (1850,2270) and (2050,2420) .. (2147,2622);
\draw[vdark,line width=2mm] (1749,2201) .. controls (1880,2208) and (2060,2325) .. (2155,2622);
\end{tikzpicture}
\end{document}
